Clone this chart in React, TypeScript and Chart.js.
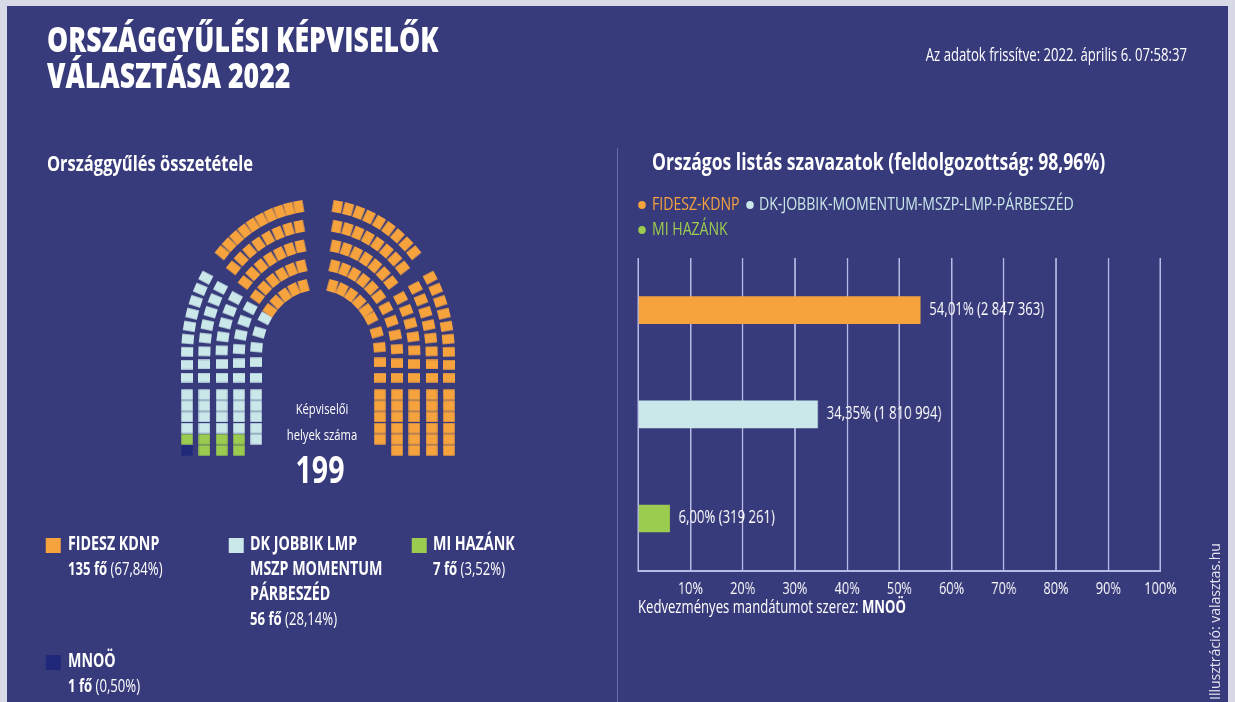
import React, { useEffect, useRef } from 'react';
import { Chart, registerables } from 'chart.js';

Chart.register(...registerables);

// ---------------- data ----------------
const PARTY_NAMES = ['FIDESZ-KDNP', 'DK-JOBBIK-MOMENTUM-MSZP-LMP-PÁRBESZÉD', 'MI HAZÁNK', 'MNOÖ'];
const SEAT_COUNTS = [135, 56, 7, 1];
const SEAT_SHARE = [67.84, 28.14, 3.52, 0.5];
const PARTY_COLORS = ['#f6a33e', '#cae7ea', '#9bcb4f', '#20287a'];
const LEGEND_LINES = [['FIDESZ KDNP'], ['DK JOBBIK LMP', 'MSZP MOMENTUM', 'PÁRBESZÉD'], ['MI HAZÁNK'], ['MNOÖ']];
const TOTAL_SEATS = 199;

const LIST_PARTIES = ['FIDESZ-KDNP', 'DK-JOBBIK-MOMENTUM-MSZP-LMP-PÁRBESZÉD', 'MI HAZÁNK'];
const LIST_PCT = [54.01, 34.35, 6.0];
const LIST_VOTES = [2847363, 1810994, 319261];
const X_TICK_STEP = 10;
const PROCESSED = '98,96%';
const UPDATED = 'Az adatok frissítve: 2022. április 6. 07:58:37';

// hemicycle layout (seats per row, outer -> inner)
const SIDE_ROWS = [9, 8, 7, 6, 5];
const TOP_LEFT_ROWS = [10, 8, 7, 6, 5];
const TOP_RIGHT_ROWS = [9, 8, 7, 6, 5];
const BLOCK_COLS = [6, 6, 6, 6, 5];
const LEFT_FILL = [3, 2, 1];
const RIGHT_FILL = [0];

// ---------------- geometry / style ----------------
const S = 0.75; // horizontal squash of the text layer
const PAGE_W = 1235;
const DESIGN_W = PAGE_W / S;
const X = (px: number) => px / S;
const FONT = "'Open Sans', 'Noto Sans', sans-serif";
const BG = '#383b7b';
const GRID = '#b8bae6';

const A_RADII = [136.5, 118.5, 100.5, 82.5, 64.5];
const K = 1.15;
const CX = 318;
const CY = 356;
const SIDE_PHI_MAX = 31;
const SIDE_STRAIGHT = 24;
const TOP_PHI_START = [43, 42, 41, 40, 39];
const TOP_PHI_END = [81.5, 80.5, 79.5, 78, 76.5];
const HC = { left: 148, top: 180, w: 340, h: 300 };
const BLOCK_TOP = 41.8;
const BLOCK_PITCH = 11.7;

type Slot = { x: number; y: number; rot: number; block: boolean; col: number; row: number };

const rotFor = (th: number) => (Math.atan2(-Math.sin(th) / K, Math.cos(th)) * 180) / Math.PI;

function mk(a: number, phiDeg: number, side: number, col: number, row: number): Slot {
  const p = (phiDeg * Math.PI) / 180;
  const th = side < 0 ? Math.PI - p : p;
  return { x: a * Math.cos(th), y: K * a * Math.sin(th), rot: rotFor(th), block: false, col, row };
}

function sideSlots(side: number): Slot[] {
  const out: Slot[] = [];
  SIDE_ROWS.forEach((n, i) => {
    const a = A_RADII[i];
    const b = K * a;
    const steps = 300;
    const cum = [0];
    const phis = [0];
    let px = a;
    let py = 0;
    for (let s = 1; s <= steps; s++) {
      const ph = ((SIDE_PHI_MAX * s) / steps) * (Math.PI / 180);
      const x = a * Math.cos(ph);
      const y = b * Math.sin(ph);
      cum.push(cum[s - 1] + Math.hypot(x - px, y - py));
      phis.push((SIDE_PHI_MAX * s) / steps);
      px = x;
      py = y;
    }
    const total = SIDE_STRAIGHT + cum[steps];
    for (let k = 0; k < n; k++) {
      const s = (total * k) / (n - 1);
      if (s <= SIDE_STRAIGHT) {
        out.push({ x: side * a, y: -SIDE_STRAIGHT + s, rot: side < 0 ? 180 : 0, block: false, col: i, row: k });
      } else {
        const t = s - SIDE_STRAIGHT;
        let j = 1;
        while (j < steps && cum[j] < t) j++;
        const f = (t - cum[j - 1]) / (cum[j] - cum[j - 1] || 1);
        const phi = phis[j - 1] + f * (phis[j] - phis[j - 1]);
        out.push(mk(a, phi, side, i, k));
      }
    }
  });
  return out;
}

function topSlots(rows: number[], side: number): Slot[] {
  const out: Slot[] = [];
  rows.forEach((n, i) => {
    for (let k = 0; k < n; k++) {
      const phi = TOP_PHI_START[i] + ((TOP_PHI_END[i] - TOP_PHI_START[i]) * k) / (n - 1);
      out.push(mk(A_RADII[i], phi, side, i, k));
    }
  });
  return out;
}

function blockSlots(side: number): Slot[] {
  const out: Slot[] = [];
  BLOCK_COLS.forEach((n, c) => {
    for (let j = 0; j < n; j++) {
      out.push({ x: side * A_RADII[c], y: -(BLOCK_TOP + j * BLOCK_PITCH), rot: 0, block: true, col: c, row: j });
    }
  });
  return out;
}

function buildSeats(): Slot[][] {
  const assigned: Slot[][] = PARTY_NAMES.map(() => []);
  const leftBlock = blockSlots(-1).sort((a, b) => b.row - a.row || a.col - b.col);
  const leftSlots = [...leftBlock, ...sideSlots(-1)];
  const rightSlots = [...topSlots(TOP_LEFT_ROWS, -1), ...topSlots(TOP_RIGHT_ROWS, 1), ...sideSlots(1), ...blockSlots(1)];
  const fill = (slots: Slot[], order: number[]) => {
    let idx = 0;
    order.forEach((p) => {
      for (let k = 0; k < SEAT_COUNTS[p] && idx < slots.length; k++) assigned[p].push(slots[idx++]);
    });
  };
  fill(leftSlots, LEFT_FILL);
  fill(rightSlots, RIGHT_FILL);
  return assigned;
}

function rectImage(color: string, w: number, h: number, fw: number, fh: number) {
  const c = document.createElement('canvas');
  c.width = w;
  c.height = h;
  const g = c.getContext('2d')!;
  g.fillStyle = color;
  g.fillRect((w - fw) / 2, (h - fh) / 2, fw, fh);
  return c;
}

const fmtPct = (v: number) => v.toFixed(2).replace('.', ',') + '%';
const fmtNum = (v: number) => String(v).replace(/\B(?=(\d{3})+(?!\d))/g, ' ');

// ---------------- components ----------------
function Txt(p: {
  x: number;
  y: number;
  size: number;
  weight?: number;
  color?: string;
  anchor?: 'start' | 'middle' | 'end';
  children: React.ReactNode;
}) {
  const st: React.CSSProperties = {
    position: 'absolute',
    top: p.y - p.size * 0.888,
    fontSize: p.size,
    lineHeight: `${p.size}px`,
    fontWeight: p.weight ?? 400,
    color: p.color ?? '#ffffff',
    whiteSpace: 'nowrap',
    fontFamily: FONT,
  };
  const left = X(p.x);
  if (p.anchor === 'end') st.right = DESIGN_W - left;
  else if (p.anchor === 'middle') {
    st.left = left;
    st.transform = 'translateX(-50%)';
  } else st.left = left;
  return <div style={st}>{p.children}</div>;
}

function Hemicycle() {
  const ref = useRef<HTMLCanvasElement>(null);
  useEffect(() => {
    if (!ref.current) return;
    const seats = buildSeats();
    const arcImgs = PARTY_COLORS.map((c) => rectImage(c, 12, 10, 12, 9.5));
    const blockImgs = PARTY_COLORS.map((c) => rectImage(c, 12, 11, 11.5, 10.4));
    const chart = new Chart(ref.current, {
      type: 'scatter',
      data: {
        datasets: PARTY_NAMES.map((name, i) => ({
          label: name,
          data: seats[i] as any,
          pointRadius: 6,
          pointStyle: ((c: any) => (c.raw && c.raw.block ? blockImgs[i] : arcImgs[i])) as any,
          rotation: ((c: any) => (c.raw ? c.raw.rot : 0)) as any,
          clip: false as any,
        })),
      },
      options: {
        responsive: false,
        animation: false,
        events: [],
        layout: { padding: 0 },
        plugins: { legend: { display: false }, tooltip: { enabled: false } },
        scales: {
          x: { type: 'linear', min: HC.left - CX, max: HC.left + HC.w - CX, display: false },
          y: { type: 'linear', min: CY - (HC.top + HC.h), max: CY - HC.top, display: false },
        },
      },
    });
    return () => chart.destroy();
  }, []);
  return (
    <canvas
      ref={ref}
      width={HC.w}
      height={HC.h}
      style={{ position: 'absolute', left: HC.left, top: HC.top, width: HC.w, height: HC.h }}
    />
  );
}

const BAR_CANVAS = { left: X(620), top: 250, w: Math.round(X(1195) - X(620)), h: 361 };

function VoteBars() {
  const ref = useRef<HTMLCanvasElement>(null);
  useEffect(() => {
    if (!ref.current) return;
    const barLabels = {
      id: 'barLabels',
      afterDatasetsDraw(chart: any) {
        const ctx = chart.ctx;
        const meta = chart.getDatasetMeta(0);
        ctx.save();
        ctx.fillStyle = '#ffffff';
        ctx.font = `17.5px ${FONT}`;
        ctx.textBaseline = 'middle';
        meta.data.forEach((bar: any, i: number) => {
          ctx.fillText(`${fmtPct(LIST_PCT[i])} (${fmtNum(LIST_VOTES[i])})`, bar.x + 12, bar.y);
        });
        ctx.restore();
      },
    };
    const chart = new Chart(ref.current, {
      type: 'bar',
      data: {
        labels: LIST_PARTIES,
        datasets: [
          {
            data: LIST_PCT,
            backgroundColor: PARTY_COLORS.slice(0, 3),
            borderWidth: 0,
            barThickness: 27,
          },
        ],
      },
      options: {
        indexAxis: 'y',
        responsive: false,
        animation: false,
        events: [],
        layout: { padding: { left: X(638) - X(620), right: X(1195) - X(1160), top: 8, bottom: 4 } },
        plugins: { legend: { display: false }, tooltip: { enabled: false } },
        scales: {
          x: {
            min: 0,
            max: 100,
            ticks: {
              stepSize: X_TICK_STEP,
              color: '#ffffff',
              font: { size: 17, family: FONT },
              padding: 8,
              callback: (v: any) => (Number(v) === 0 ? '' : `${v}%`),
            },
            grid: { color: GRID, lineWidth: 2, drawTicks: false },
            border: { display: true, color: GRID, width: 2 },
          },
          y: { display: false },
        },
      },
      plugins: [barLabels as any],
    });
    return () => chart.destroy();
  }, []);
  return (
    <canvas
      ref={ref}
      width={BAR_CANVAS.w}
      height={BAR_CANVAS.h}
      style={{ position: 'absolute', left: BAR_CANVAS.left, top: BAR_CANVAS.top, width: BAR_CANVAS.w, height: BAR_CANVAS.h }}
    />
  );
}

function Square(p: { x: number; y: number; color: string }) {
  return (
    <div style={{ position: 'absolute', left: X(p.x), top: p.y, width: X(p.x + 15) - X(p.x), height: 15, background: p.color }} />
  );
}

function Dot(p: { x: number; y: number; color: string }) {
  return (
    <div
      style={{
        position: 'absolute',
        left: X(p.x),
        top: p.y - 4,
        width: 8 / S,
        height: 8,
        borderRadius: '50%',
        background: p.color,
      }}
    />
  );
}

const LEGEND_POS = [
  { sx: 46, sy: 538, tx: 68, ty: 551 },
  { sx: 229, sy: 538, tx: 250, ty: 551 },
  { sx: 412, sy: 538, tx: 433, ty: 551 },
  { sx: 46, sy: 655, tx: 68, ty: 668 },
];

export default function App() {
  return (
    <div style={{ position: 'fixed', left: 0, top: 0, width: PAGE_W, height: 702, background: '#d7d9e6', overflow: 'hidden' }}>
      <div style={{ position: 'absolute', left: 7, top: 6, width: 1221, height: 696, background: BG }} />
      <div style={{ position: 'absolute', left: 617, top: 148, width: 1, height: 554, background: '#6a6da8' }} />
      <Hemicycle />
      <div
        style={{
          position: 'absolute',
          left: 0,
          top: 0,
          width: DESIGN_W,
          height: 702,
          transform: `scaleX(${S})`,
          transformOrigin: '0 0',
        }}
      >
        <Txt x={47} y={53} size={35.5} weight={800}>ORSZÁGGYŰLÉSI KÉPVISELŐK</Txt>
        <Txt x={47} y={89} size={35.5} weight={800}>VÁLASZTÁSA 2022</Txt>
        <Txt x={1187} y={62} size={17.5} anchor="end">{UPDATED}</Txt>

        <Txt x={47} y={171} size={22} weight={700}>Országgyűlés összetétele</Txt>
        <Txt x={652} y={171} size={23.4} weight={700}>{`Országos listás szavazatok (feldolgozottság: ${PROCESSED})`}</Txt>

        <Dot x={638} y={205} color={PARTY_COLORS[0]} />
        <Txt x={652} y={211} size={18.8} color={PARTY_COLORS[0]}>{LIST_PARTIES[0]}</Txt>
        <Dot x={746} y={205} color={PARTY_COLORS[1]} />
        <Txt x={759} y={211} size={18.8} color={PARTY_COLORS[1]}>{LIST_PARTIES[1]}</Txt>
        <Dot x={638} y={230} color={PARTY_COLORS[2]} />
        <Txt x={652} y={236} size={18.8} color={PARTY_COLORS[2]}>{LIST_PARTIES[2]}</Txt>

        <VoteBars />
        <Txt x={638} y={614} size={17.5}>
          Kedvezményes mandátumot szerez: <b>{PARTY_NAMES[3]}</b>
        </Txt>

        <Txt x={322} y={414} size={15} anchor="middle">Képviselői</Txt>
        <Txt x={322} y={440} size={15} anchor="middle">helyek száma</Txt>
        <Txt x={320} y={483} size={38} weight={700} anchor="middle">{String(TOTAL_SEATS)}</Txt>

        {LEGEND_LINES.map((lines, i) => {
          const p = LEGEND_POS[i];
          return (
            <React.Fragment key={i}>
              <Square x={p.sx} y={p.sy} color={PARTY_COLORS[i]} />
              {lines.map((l, j) => (
                <Txt key={j} x={p.tx} y={p.ty + j * 25} size={19} weight={700}>{l}</Txt>
              ))}
              <Txt x={p.tx} y={p.ty + lines.length * 25} size={17.5}>
                <b>{`${SEAT_COUNTS[i]} fő`}</b>{` (${fmtPct(SEAT_SHARE[i])})`}
              </Txt>
            </React.Fragment>
          );
        })}
      </div>
      <div
        style={{
          position: 'absolute',
          left: 1205,
          top: 512,
          height: 188,
          writingMode: 'vertical-rl',
          transform: 'rotate(180deg)',
          fontFamily: FONT,
          fontSize: 14,
          color: '#e4e5ef',
          whiteSpace: 'nowrap',
          textAlign: 'left',
        }}
      >
        Illusztráció: valasztas.hu
      </div>
    </div>
  );
}
